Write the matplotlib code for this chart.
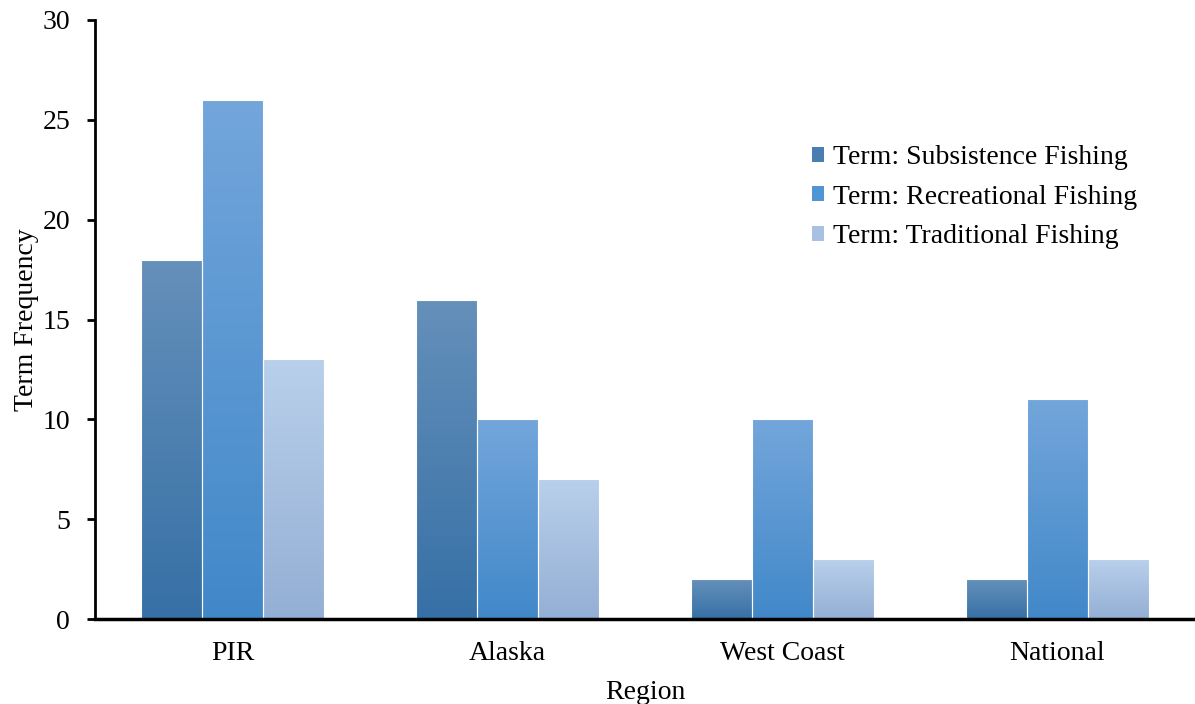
import numpy as np
import matplotlib
matplotlib.use("Agg")
import matplotlib.pyplot as plt
from matplotlib.colors import LinearSegmentedColormap
from matplotlib.patches import Patch

regions = ["PIR", "Alaska", "West Coast", "National"]
series_names = ["Term: Subsistence Fishing", "Term: Recreational Fishing", "Term: Traditional Fishing"]
subsistence = [18, 16, 2, 2]
recreational = [26, 10, 10, 11]
traditional = [13, 7, 3, 3]
series_values = [subsistence, recreational, traditional]

# (bottom colour, top colour) of each series' vertical gradient
gradients = [("#3670A6", "#6590BA"), ("#4188C9", "#73A6DB"), ("#94AFD5", "#B9D0EB")]
legend_colors = ["#4A7DB0", "#5196D4", "#A8C1E2"]

plt.rcParams["font.family"] = ["Liberation Serif", "DejaVu Serif"]

fig = plt.figure(figsize=(11.95, 7.04), dpi=100)
ax = fig.add_axes([0.0795, 0.1207, 0.9205, 0.8509])

x = np.arange(len(regions))
width = 0.222
offsets = [-width, 0, width]

for vals, off, (c0, c1) in zip(series_values, offsets, gradients):
    cmap = LinearSegmentedColormap.from_list("g", [c0, c1])
    bars = ax.bar(x + off, vals, width, facecolor="none", edgecolor="white",
                  linewidth=0.8, zorder=3)
    for b in bars:
        x0, h, w = b.get_x(), b.get_height(), b.get_width()
        grad = np.linspace(0, 1, 256).reshape(-1, 1)
        im = ax.imshow(grad, cmap=cmap, origin="lower", aspect="auto",
                       extent=(x0, x0 + w, 0, h), zorder=1, interpolation="nearest")
        im.set_clip_path(b)

ax.set_xlim(-0.5, 3.5)
ax.set_ylim(0, 30)
ax.set_yticks(np.arange(0, 31, 5))
ax.set_xticks(x)
ax.set_xticklabels(regions)
ax.tick_params(axis="x", length=0, labelsize=20, pad=16)
ax.tick_params(axis="y", direction="out", length=6, width=2, labelsize=20, pad=12)

for s in ["top", "right"]:
    ax.spines[s].set_visible(False)
ax.spines["left"].set_linewidth(2)
ax.spines["bottom"].set_linewidth(2.5)
ax.spines["bottom"].set_zorder(5)

ax.set_xlabel("Region", fontsize=20, labelpad=10)
ax.set_ylabel("Term Frequency", fontsize=20, labelpad=2)

handles = [Patch(facecolor=c, edgecolor="none") for c in legend_colors]
ax.legend(handles, series_names, loc="upper left", bbox_to_anchor=(0.629, 0.833),
          frameon=False, fontsize=20, handlelength=0.45, handleheight=0.45,
          handletextpad=0.32, labelspacing=0.53)

fig.savefig("out.png", dpi=100)
